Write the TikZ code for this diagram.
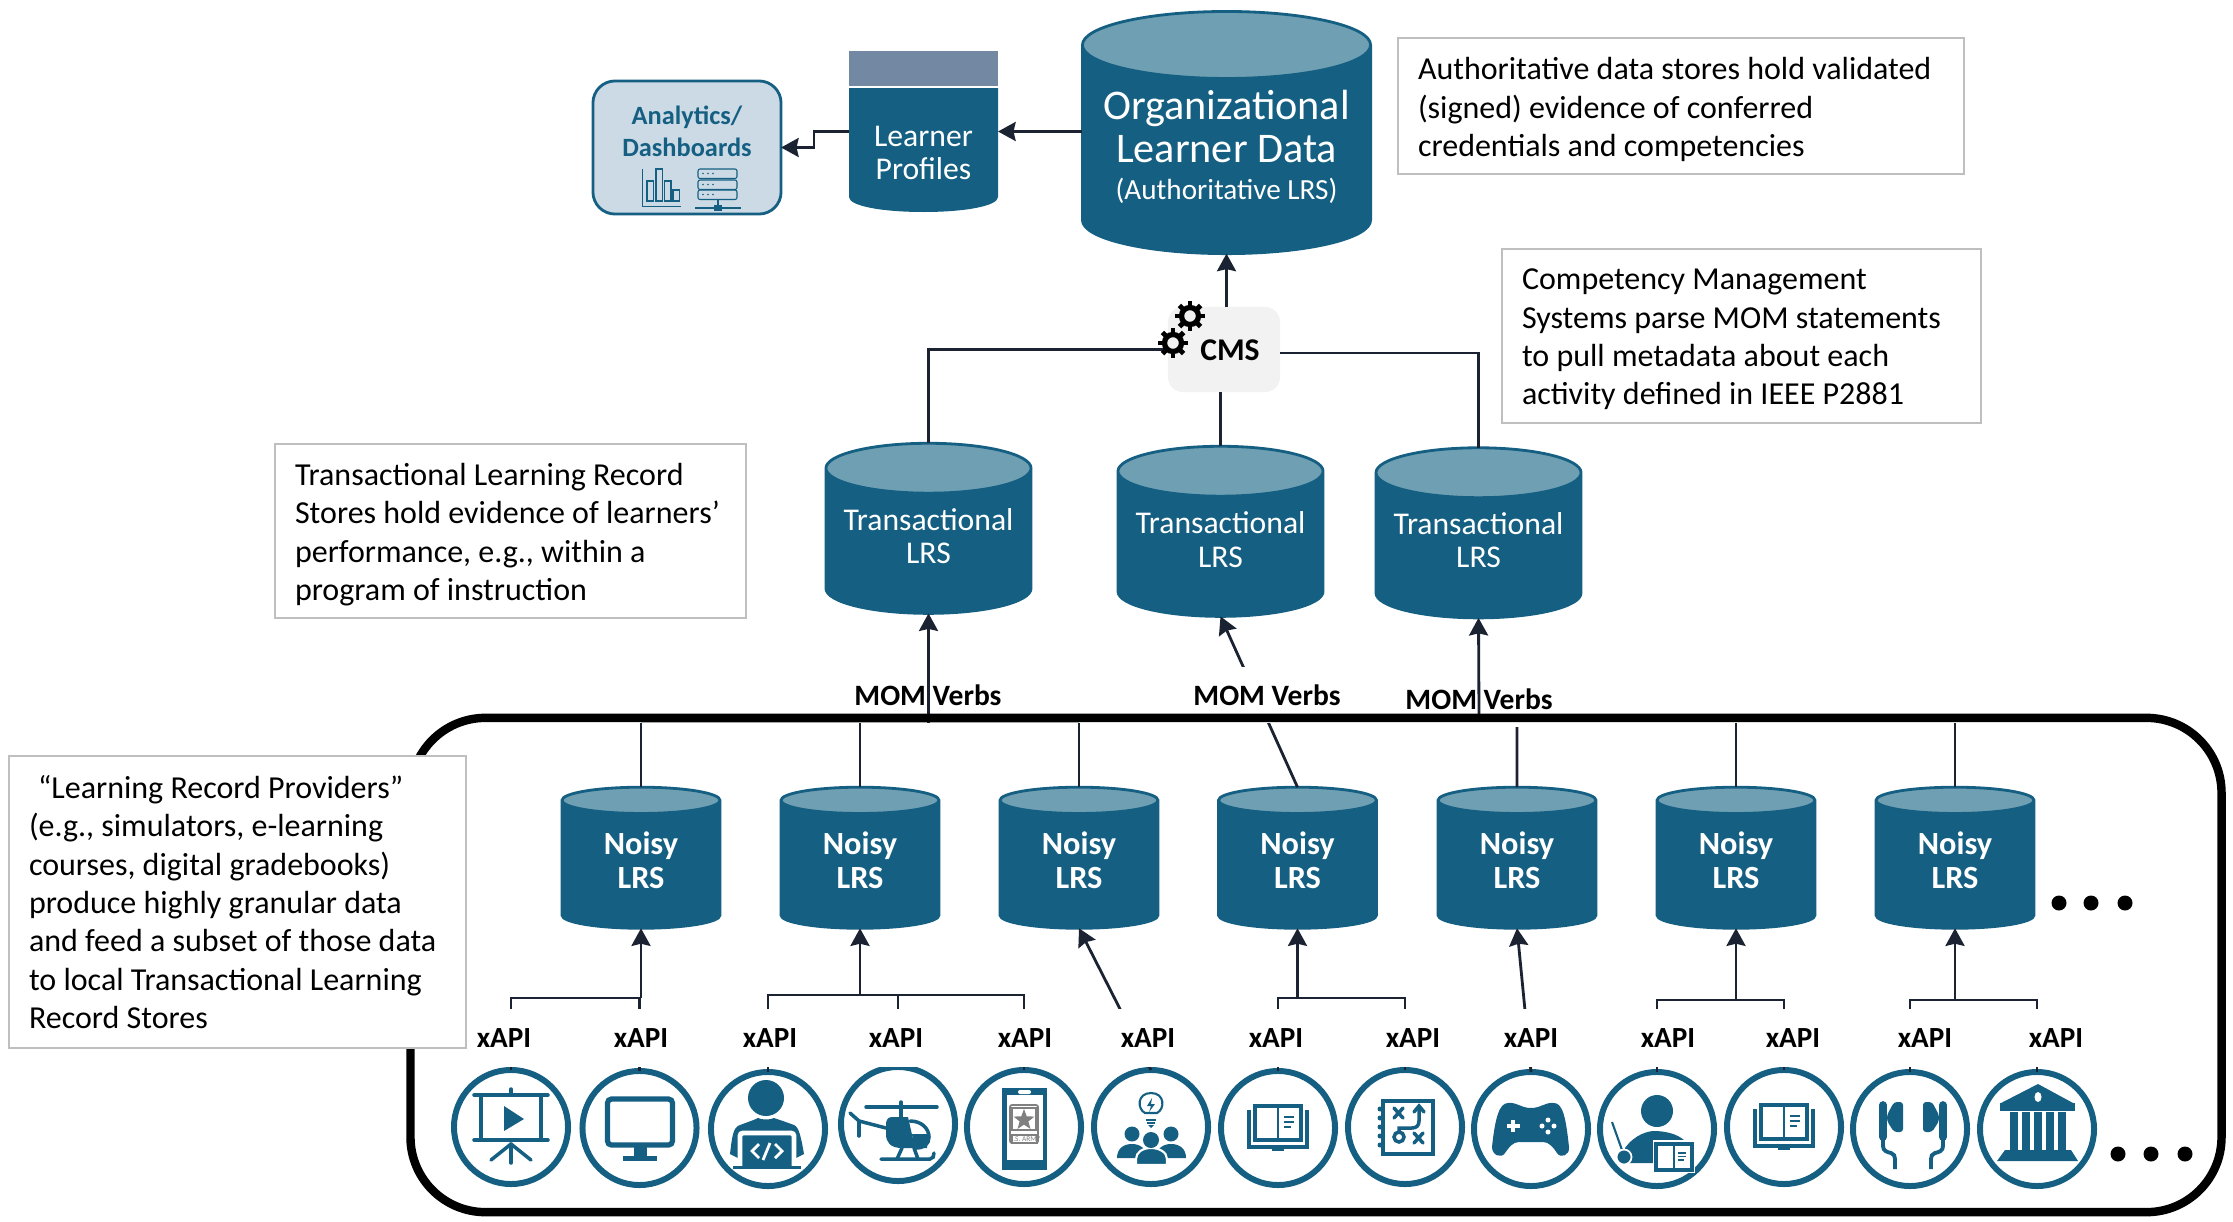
\documentclass[tikz,border=0pt]{standalone}
\usepackage{fontspec}
\setmainfont{Carlito}
\usetikzlibrary{positioning}
\usetikzlibrary{calc}
\usetikzlibrary{arrows.meta}
\usetikzlibrary{shapes.geometric}

\definecolor{lrsblue}{HTML}{156082}
\definecolor{lrslight}{HTML}{6F9FB3}
\definecolor{profilegrey}{HTML}{7389A3}
\definecolor{dashfill}{HTML}{CCDAE6}
\definecolor{notegrey}{HTML}{BFBFBF}
\definecolor{cmsfill}{HTML}{F2F2F2}
\definecolor{linedark}{HTML}{1B2333}

\newcommand{\lrsspacer}[2]{\rule{#1}{0pt}\rule{0pt}{#2}}

\tikzset{
	every node/.style={align=center,inner sep=0pt,outer sep=0pt},
	conn/.style={draw=linedark,line width=0.8pt},
	connarrow/.style={conn,-{Stealth[length=5pt,width=5.4pt,inset=0.6pt]}},
	lrs/.style={cylinder,shape border rotate=90,draw=lrsblue,line width=0.8pt,cylinder uses custom fill,cylinder body fill=lrsblue,cylinder end fill=lrslight},
	noisylrs/.style={lrs,shape aspect=0.35,minimum width=1.58cm,minimum height=1.41cm},
	translrs/.style={lrs,shape aspect=0.29,minimum width=2.05cm,minimum height=1.7cm},
	noisytext/.style={text=white,font=\fontsize{9.2}{9.6}\selectfont\bfseries},
	transtext/.style={text=white,font=\fontsize{9}{9.4}\selectfont},
	notebox/.style={draw=notegrey,fill=white,line width=0.6pt,anchor=north west},
	notetext/.style={align=left,font=\fontsize{9.1}{10.9}\selectfont},
	mom/.style={font=\fontsize{8.4}{9}\selectfont\bfseries},
	xapi/.style={fill=white,minimum height=0.58cm,inner xsep=0.08cm,font=\fontsize{8.3}{9}\selectfont\bfseries},
	ring/.style={circle,draw=lrsblue,line width=1.7pt,minimum size=1.14cm},
	iconline/.style={draw=lrsblue,line width=1pt,line cap=round},
	bigdot/.style={circle,fill=black,minimum width=0.15cm},
	% icons.......................
	presenticon/.pic={
		\draw [iconline] (-37,-32) to (37,-32);
		\draw [iconline] (-37,13) to (37,13);
		\draw [iconline] (0,-38) to (0,-32);
		\draw [iconline] (-30,-32) rectangle (30,13);
		\draw [iconline] (0,17) to (-20,33);
		\draw [iconline] (0,17) to (20,33);
		\draw [iconline] (0,17) to (0,36);
		\fill [lrsblue] (-7,-21) -- (13,-8) -- (-7,4) -- cycle;
	},
	monitoricon/.pic={
		\draw [draw=lrsblue,line width=1.5pt,rounded corners=0.4mm] (-32,-29) rectangle (33,17);
		\fill [lrsblue] (-6,19) rectangle (7,28);
		\fill [lrsblue] (-17,28) rectangle (17,33);
	},
	codericon/.pic={
		\fill [lrsblue] (-2,-31) circle [radius=18];
		\fill [lrsblue] (-38,25) .. controls (-36,8) and (-35,-2) .. (-28,-4) .. controls (-20,-7) and (-14,-9) .. (-10,-11) .. controls (-6,-9) and (2,-9) .. (6,-11) .. controls (12,-9) and (18,-7) .. (26,-4) .. controls (31,-2) and (33,8) .. (36,25) -- (26,30) -- (-28,30) -- cycle;
		\draw [white,fill=lrsblue,line width=1.4pt,rounded corners=0.3mm] (-28,38) -- (-28,4) -- (26,4) -- (26,38);
		\fill [lrsblue] (-35,37) rectangle (33,40);
		\draw [white,line width=0.8pt] (-9,15) -- (-16,22) -- (-9,29);
		\draw [white,line width=0.8pt] (7,15) -- (14,22) -- (7,29);
		\draw [white,line width=0.8pt] (2,14) -- (-5,31);
	},
	helicon/.pic={
		\draw [iconline] (-32,-17) to (39,-17);
		\draw [iconline] (3,-22) to (3,-7);
		\fill [lrsblue] (-6,-7) -- (10,-7) -- (17,24) -- (4,24) .. controls (-8,24) and (-12,18) .. (-12,10) -- (-12,0) .. controls (-12,-4) and (-10,-7) .. (-6,-7) -- cycle;
		\draw [iconline] (12,-3) .. controls (24,-3) and (31,5) .. (31,13) .. controls (31,20) and (26,24) .. (18,24);
		\fill [lrsblue] (14,10) -- (30,10) -- (29,24) -- (16,24) -- cycle;
		\draw [iconline] (-12,4) to (-39,-3) to (-48,-11);
		\draw [iconline] (-39,-3) to (-39,12);
		\draw [iconline] (4,24) to (-1,35);
		\draw [iconline] (16,24) to (20,35);
		\draw [iconline] (-17,35) to (32,35) .. controls (35,35) and (36,32) .. (36,29);
	},
	badgeicon/.pic={
		\fill [lrsblue] (-22,-39) rectangle (23,43);
		\fill [white] (-17,-32) rectangle (19,33);
		\fill [white,rounded corners=0.2mm] (-6,-37) rectangle (7,-33);
		\draw [gray,line width=0.5pt,rounded corners=0.2mm] (-14,-22) rectangle (14,16);
		\draw [gray,line width=0.3pt] (-12,-19) rectangle (12,3);
		\draw [gray,line width=0.4pt] (-12,8) rectangle (13,16);
		\node (badgestar) [star,star points=5,star point ratio=2.4,fill=gray,minimum size=0.22cm] at (0,-7) {};
		\node (badgetext) [text=gray,font=\fontsize{2.1}{2.5}\selectfont] at (0.5,12) {U.S. ARMY};
	},
	teamicon/.pic={
		\draw [draw=lrsblue,line width=0.6pt] (-6,-14) .. controls (-14,-18) and (-14,-34) .. (0,-34) .. controls (14,-34) and (14,-18) .. (6,-14) -- cycle;
		\fill [lrsblue] (1,-29) -- (-4,-21) -- (0,-21) -- (-2,-15) -- (4,-23) -- (0,-23) -- cycle;
		\draw [draw=lrsblue,line width=0.6pt] (-5,-7) to (5,-7);
		\draw [draw=lrsblue,line width=0.6pt] (-4,-4) to (4,-4);
		\fill [lrsblue] (-3,-2) -- (3,-2) -- (0,1) -- cycle;
		\fill [lrsblue] (-19,7) circle [radius=7.5];
		\fill [lrsblue] (20,7) circle [radius=7.5];
		\fill [lrsblue] (-34,31) .. controls (-34,22) and (-28,17) .. (-19,17) .. controls (-10,17) and (-5,22) .. (-4,31) -- cycle;
		\fill [lrsblue] (4,31) .. controls (6,22) and (11,17) .. (20,17) .. controls (29,17) and (35,22) .. (35,31) -- cycle;
		\draw [white,fill=lrsblue,line width=0.6pt] (-15,38) -- (-15,32) .. controls (-15,25) and (-8,21) .. (0,21) .. controls (8,21) and (16,25) .. (16,32) -- (16,38) -- cycle;
		\fill [lrsblue] (0,13) circle [radius=8];
	},
	bookicon/.pic={
		\fill [lrsblue] (-31,-18) rectangle (-27,21);
		\fill [lrsblue] (27,-18) rectangle (31,21);
		\fill [lrsblue] (-31,17) rectangle (31,21);
		\fill [lrsblue] (-6,21) rectangle (6,23);
		\draw [draw=lrsblue,line width=1.1pt] (-23,-22) rectangle (23,12);
		\draw [draw=lrsblue,line width=0.7pt] (0,-22) to (0,12);
		\draw [draw=lrsblue,line width=0.6pt] (6,-11) to (16,-11);
		\draw [draw=lrsblue,line width=0.6pt] (6,-6) to (16,-6);
		\draw [draw=lrsblue,line width=0.6pt] (6,-1) to (13,-1);
	},
	playsicon/.pic={
		\draw [draw=lrsblue,line width=1.2pt] (-22,-26) rectangle (28,27);
		\foreach \ry in {-18,-9,0,9,18}
			\fill [lrsblue] (-25,\ry) circle [radius=2.5];
		\draw [iconline] (-11,-19) to (-2,-9);
		\draw [iconline] (-2,-19) to (-11,-9);
		\draw [iconline] (-6,10) circle [radius=5];
		\draw [iconline] (9,6) to (18,16);
		\draw [iconline] (18,6) to (9,16);
		\draw [iconline] (-6,4) to (-6,1) to (7,1) .. controls (12,1) and (14,-2) .. (14,-6) to (14,-20);
		\draw [iconline] (9,-15) to (14,-21) to (19,-15);
	},
	padicon/.pic={
		\fill [lrsblue] (-23,-26) .. controls (-14,-27) and (-10,-21) .. (0,-21) .. controls (10,-21) and (14,-27) .. (23,-26) .. controls (32,-26) and (35,-10) .. (38,18) .. controls (39,26) and (30,30) .. (26,24) .. controls (22,18) and (18,13) .. (12,13) -- (-12,13) .. controls (-18,13) and (-22,18) .. (-26,24) .. controls (-30,30) and (-39,26) .. (-39,18) .. controls (-36,-10) and (-32,-26) .. (-23,-26) -- cycle;
		\draw [white,line width=0.9pt] (-24,-3) to (-11,-3);
		\draw [white,line width=0.9pt] (-18,-9) to (-18,3);
		\foreach \rx/\ry in {17/-9,17/3,11/-3,23/-3}
			\fill [white] (\rx,\ry) circle [radius=2.5];
	},
	teachericon/.pic={
		\fill [lrsblue] (0,-18) circle [radius=16];
		\fill [lrsblue] (-32,19) .. controls (-22,5) and (-8,2) .. (-3,2) .. controls (6,2) and (20,4) .. (28,12) -- (0,34) -- (-29,34) -- cycle;
		\draw [white,fill=white,line width=1pt] (-2,13) rectangle (36,42);
		\draw [draw=lrsblue,fill=white,line width=0.9pt] (-1,15) rectangle (35,41);
		\draw [draw=lrsblue,line width=0.7pt] (17,15) to (17,41);
		\draw [draw=lrsblue,line width=0.5pt] (21,24) to (29,24);
		\draw [draw=lrsblue,line width=0.5pt] (21,27.5) to (29,27.5);
		\draw [draw=lrsblue,line width=0.5pt] (21,31) to (27,31);
		\fill [lrsblue] (10,42) rectangle (23,43);
		\draw [draw=lrsblue,line width=0.6pt] (-45,-7) to (-35,21);
		\draw [white,fill=lrsblue,line width=0.5pt] (-33,28) circle [radius=7.5];
	},
	budhalf/.pic={
		\draw [iconline,line width=2.2pt] (-30,-24) to (-30,8);
		\fill [lrsblue,rounded corners=0.3mm] (-26,-14) -- (-19,-27) -- (-10,-27) -- (-10,3) -- (-19,3) -- (-26,-8) -- cycle;
		\draw [draw=lrsblue,line width=1.1pt] (-30,11) to (-30,17) .. controls (-30,22) and (-26,23) .. (-22,24) .. controls (-19,25) and (-18,27) .. (-18,30) to (-18,40);
	},
	budsicon/.pic={
		\pic at (3,0) {budhalf};
		\pic [xscale=-1] at (3,0) {budhalf};
	},
	bankicon/.pic={
		\fill [lrsblue] (1,-45) -- (36,-26) -- (-36,-26) -- cycle;
		\fill [white] (1,-32) ellipse [x radius=3.5,y radius=5];
		\fill [lrsblue] (-37,-26) rectangle (38,-18);
		\foreach \rx in {-23,-11,1,13,25}
			\fill [lrsblue] (\rx-4,-17) rectangle (\rx+4,22);
		\fill [lrsblue] (-32,21) -- (34,21) -- (41,32) -- (-40,32) -- cycle;
	},
	gearicon/.pic={
		\draw [draw=black,line width=1.5pt] (0,0) circle [radius=8.5];
		\foreach \a in {0,45,...,315}
			\draw [draw=black,line width=1.4pt] (\a:9) to (\a:15);
	},
}

\begin{document}
\begin{tikzpicture}[x=0.01cm,y=-0.01cm]

		\useasboundingbox (0,0) rectangle (2233,1221);

		% top cylinders.....................
		\node (org) [lrs,shape aspect=0.27,minimum width=2.88cm,minimum height=2.42cm] at (1226.5,150) {\lrsspacer{2.48cm}{1.35cm}};
		\node (orgtext) [text=white,font=\fontsize{12}{12.2}\selectfont] at (1226.5,147) {Organizational\\Learner Data\\[-0.06cm]{\fontsize{8.3}{10}\selectfont (Authoritative LRS)}};

		% learner profiles....................
		\node (profiles) [minimum width=1.49cm,minimum height=1.61cm] at (923.5,131.5) {};
		\fill [profilegrey] (849,51) rectangle (998,86);
		\fill [lrsblue] (849,88) -- (998,88) -- (998,197) .. controls (998,206) and (965,212) .. (923.5,212) .. controls (882,212) and (849,206) .. (849,197) -- cycle;
		\node (profilestext) [text=white,font=\fontsize{9}{9.3}\selectfont] at (923.5,153) {Learner\\Profiles};

		% analytics box.......................
		\node (dash) [draw=lrsblue,fill=dashfill,line width=0.8pt,rounded corners=2.2mm,minimum width=1.88cm,minimum height=1.33cm] at (687,147.5) {};
		\node (dashtext) [text=lrsblue,font=\fontsize{7.5}{9}\selectfont\bfseries] at (687,131) {Analytics/\\Dashboards};

		% bar chart in the box................
		\draw [draw=lrsblue,line width=0.25pt] (642,169) to (642,206) to (681,206);
		\foreach \bx/\by in {647/181,656/169,664.5/181,673/190}
			\draw [draw=lrsblue,line width=0.3pt] (\bx,\by) rectangle (\bx+6.5,201);

		% server in the box...................
		\foreach \sy in {169,180,190}{
			\draw [draw=lrsblue,line width=0.3pt,rounded corners=0.2mm] (698,\sy) rectangle (737,\sy+9.5);
			\foreach \dx in {703,708,713}
				\fill [lrsblue] (\dx,\sy+4.5) circle [radius=0.9];
		}
		\draw [draw=lrsblue,line width=0.3pt] (718,199.5) to (718,208);
		\draw [draw=lrsblue,line width=0.3pt] (695,208) to (741,208);
		\fill [lrsblue] (714,205) rectangle (722,211);

		% cms box.............................
		\node (cms) [fill=cmsfill,rounded corners=1.5mm,minimum width=1.12cm,minimum height=0.85cm] at (1224,349.5) {};
		\node (cmstext) [font=\fontsize{9}{10}\selectfont\bfseries] at (1230,350) {CMS};

		% transactional cylinders.............
		\foreach \tx/\ty/\tt [count=\i] in {928.5/541.5/536,1220.5/544.5/539.6,1478.5/546/540}{
			\node (t\i) [translrs] at (\tx,\ty) {\lrsspacer{1.72cm}{0.58cm}};
			\node (tt\i) [transtext] at (\tx,\tt) {Transactional\\LRS};
		}

		% noisy cylinders.....................
		\foreach \nx [count=\i] in {641,860,1079,1297.5,1517,1736,1955}{
			\node (n\i) [noisylrs] at (\nx,865) {\lrsspacer{0.75cm}{0.57cm}};
			\node (nt\i) [noisytext] at (\nx,860) {Noisy\\LRS};
		}

		% source circles......................
		\foreach \cx/\cy/\icon [count=\i] in {511/1127/presenticon,639.5/1128/monitoricon,768/1129/codericon,898/1124/helicon,1024/1127/badgeicon,1151/1127/teamicon,1278/1128/bookicon,1405/1127/playsicon,1531/1129/padicon,1657/1129/teachericon,1784/1127/bookicon,1910/1129/budsicon,2037/1129/bankicon}{
			\node (c\i) [ring] at (\cx,\cy) {};
			\pic at (\cx,\cy) {\icon};
		}

		% connectors at the top...............
		\draw [connarrow] (org.west |- profiles.east) to (profiles.east);
		\draw [connarrow] (profiles.west) to (814,131.5) to (814,147.5) to (dash.east);
		\draw [connarrow] (org.south |- cms.north) to (org.south);
		\draw [conn] (cms.west) -| (t1.north);
		\draw [conn] (t2.north |- cms.south) to (t2.north);
		\draw [conn] ([yshift=-0.035cm]cms.east) -| (t3.north);

		% noisy to transactional..............
		\coordinate (bus) at (0,722.5);
		\draw [notegrey,line width=0.5pt] (n1.north |- bus) to (n3.north |- bus);
		\draw [conn] (n1.north) to (n1.north |- bus);
		\draw [conn] (n2.north) to (n2.north |- bus);
		\draw [conn] (n3.north) to (n3.north |- bus);
		\draw [connarrow] (t1.south |- bus) to (t1.south);
		\draw [connarrow] (n4.north) to (t2.south);
		\coordinate (n5top) at (1517,727);
		\draw [conn] (n5.north) to (n5top);
		\coordinate (t3foot) at (1479,716);
		\draw [connarrow] (t3foot) to (t3.south);
		\draw [conn] (n6.north) to (n6.north |- bus);
		\draw [conn] (n7.north) to (n7.north |- bus);

		% sources to noisy....................
		\coordinate (b1) at (641,998);
		\coordinate (b2) at (860,995);
		\coordinate (b4) at (1297.5,998);
		\coordinate (b6) at (1736,1000);
		\coordinate (b7) at (1955,1000);
		\draw [connarrow] (b1) to (n1.south);
		\draw [conn] (c1.north) |- (b1);
		\draw [conn] (c2.north) to (c2.north |- b1);
		\draw [connarrow] (b2) to (n2.south);
		\draw [conn] (c3.north) |- (b2);
		\draw [conn] (c4.north) to (c4.north |- b2);
		\draw [conn] (c5.north) |- (b2);
		\draw [connarrow] (c6.north) to (n3.south);
		\draw [connarrow] (b4) to (n4.south);
		\draw [conn] (c7.north) |- (b4);
		\draw [conn] (c8.north) |- (b4);
		\draw [connarrow] (c9.north) to (n5.south);
		\draw [connarrow] (b6) to (n6.south);
		\draw [conn] (c10.north) |- (b6);
		\draw [conn] (c11.north) |- (b6);
		\draw [connarrow] (b7) to (n7.south);
		\draw [conn] (c12.north) |- (b7);
		\draw [conn] (c13.north) |- (b7);

		% xapi labels.........................
		\foreach \lx [count=\i] in {504,641,770,896,1025,1148,1276,1413,1531,1668,1793,1925,2056}
			\node (x\i) [xapi] at (\lx,1038) {xAPI};

		% mom labels..........................
		\node (mom1) [mom] at (928,695) {MOM Verbs};
		\node (mom2) [mom,fill=white,minimum height=0.56cm] at (1267,695) {MOM Verbs};
		\node (mom3) [mom] at (1479,699) {MOM Verbs};

		% big frame...........................
		\node (frame) [draw=black,line width=2.4pt,rounded corners=7.5mm,minimum width=18.1cm,minimum height=4.94cm] at (1316,965) {};

		% gears...............................
		\pic at (1190,316) {gearicon};
		\pic at (1173,343) {gearicon};

		% more dots...........................
		\foreach \dx [count=\i] in {2059,2091,2125}
			\node (dotsa\i) [bigdot] at (\dx,903) {};
		\foreach \dx [count=\i] in {2118,2151,2185}
			\node (dotsb\i) [bigdot] at (\dx,1154) {};

		% notes...............................
		\node (note1) [notebox,minimum width=5.66cm,minimum height=1.36cm] at (1398,38) {};
		\node (note1text) [notetext,right=0.2cm of note1.west,yshift=-0.035cm] {Authoritative data stores hold validated\\(signed) evidence of conferred\\credentials and competencies};
		\node (note2) [notebox,minimum width=4.79cm,minimum height=1.74cm] at (1502,249) {};
		\node (note2text) [notetext,right=0.2cm of note2.west,yshift=-0.035cm] {Competency Management\\Systems parse MOM statements\\to pull metadata about each\\activity defined in IEEE P2881};
		\node (note3) [notebox,minimum width=4.71cm,minimum height=1.74cm] at (275,444) {};
		\node (note3text) [notetext,right=0.2cm of note3.west,yshift=-0.035cm] {Transactional Learning Record\\Stores hold evidence of learners’\\performance, e.g., within a\\program of instruction};
		\node (note4) [notebox,minimum width=4.57cm,minimum height=2.92cm] at (9,756) {};
		\node (note4text) [notetext,right=0.2cm of note4.west] {\hspace*{0.09cm}“Learning Record Providers”\\(e.g., simulators, e-learning\\courses, digital gradebooks)\\produce highly granular data\\and feed a subset of those data\\to local Transactional Learning\\Record Stores};

	\end{tikzpicture}
\end{document}
